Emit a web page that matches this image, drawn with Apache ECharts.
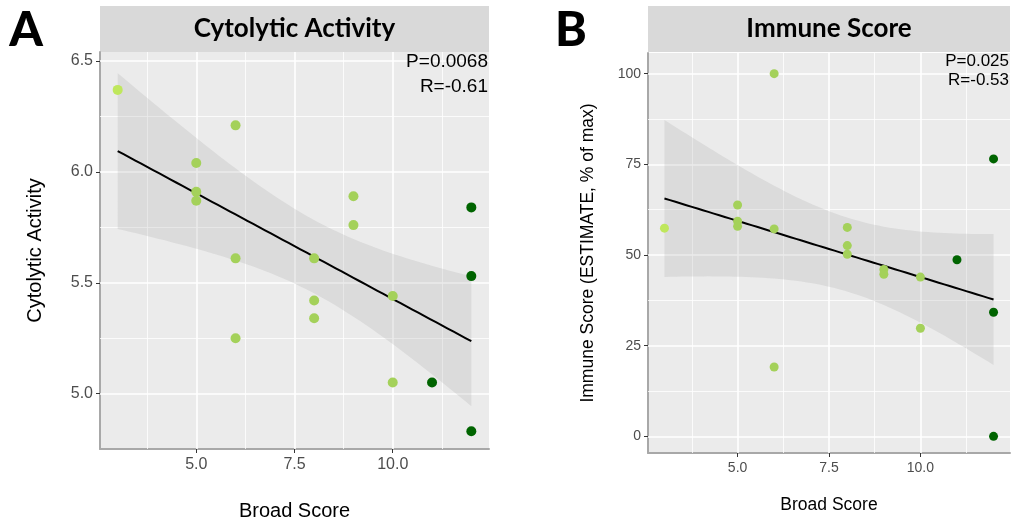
<!DOCTYPE html>
<html><head><meta charset="utf-8">
<script src="https://cdn.jsdelivr.net/npm/echarts@6/dist/echarts.min.js"></script>
<style>html,body{margin:0;padding:0;background:#fff}#c{width:1013px;height:523px}</style>
</head><body><div id="c"></div>
<script>
// ---- Panel A: Cytolytic Activity vs Broad Score ----
const aBroad = [3, 6, 5, 5, 5, 9, 9, 12, 6, 8, 12, 10, 8, 8, 6, 10, 11, 12];
const aCytolytic = [6.37, 6.21, 6.04, 5.91, 5.87, 5.89, 5.76, 5.84, 5.61, 5.61, 5.53, 5.44, 5.42, 5.34, 5.25, 5.05, 5.05, 4.83];
const aGroup = [0, 1, 1, 1, 1, 1, 1, 2, 1, 1, 2, 1, 1, 1, 1, 1, 2, 2];
// ---- Panel B: Immune Score vs Broad Score ----
const bBroad = [6, 12, 5, 3, 5, 5, 6, 8, 8, 8, 11, 9, 9, 10, 12, 10, 6, 12];
const bImmune = [100, 76.5, 63.8, 57.4, 59.3, 57.9, 57.2, 57.6, 52.6, 50.2, 48.7, 46.0, 44.7, 43.9, 34.2, 29.8, 19.1, 0];
const bGroup = [1, 2, 1, 0, 1, 1, 1, 1, 1, 1, 2, 1, 1, 1, 2, 1, 1, 2];

const groupColors = ['#bfe75c', '#a4d15a', '#006400'];
const xTicks = [5, 7.5, 10];
const xMinor = [3.75, 6.25, 8.75, 11.25];
const aYTicks = [5.0, 5.5, 6.0, 6.5];
const aYMinor = [5.25, 5.75, 6.25];
const bYTicks = [0, 25, 50, 75, 100];
const bYMinor = [12.5, 37.5, 62.5, 87.5];
const panelTitles = ['Cytolytic Activity', 'Immune Score'];
const panelLetters = ['A', 'B'];
const aStats = ['P=0.0068', 'R=-0.61'];
const bStats = ['P=0.025', 'R=-0.53'];
const xTitle = 'Broad Score';
const yTitles = ['Cytolytic Activity', 'Immune Score (ESTIMATE, % of max)'];

// linear model fit with 95% confidence band (as geom_smooth(method = "lm"))
function lmFit(xs, ys, steps) {
  const n = xs.length;
  const mx = xs.reduce((s, v) => s + v, 0) / n;
  const my = ys.reduce((s, v) => s + v, 0) / n;
  let sxx = 0, sxy = 0;
  for (let i = 0; i < n; i++) { sxx += (xs[i] - mx) ** 2; sxy += (xs[i] - mx) * (ys[i] - my); }
  const b = sxy / sxx, a = my - b * mx;
  let sse = 0;
  for (let i = 0; i < n; i++) { const r = ys[i] - (a + b * xs[i]); sse += r * r; }
  const s = Math.sqrt(sse / (n - 2));
  const t = 2.1199; // t(0.975, df = 16), n = 18
  const lo = Math.min(...xs), hi = Math.max(...xs);
  const line = [], upper = [], lower = [];
  for (let k = 0; k <= steps; k++) {
    const x = lo + (hi - lo) * k / steps;
    const yh = a + b * x;
    const se = s * Math.sqrt(1 / n + (x - mx) ** 2 / sxx);
    line.push([x, yh]); upper.push([x, yh + t * se]); lower.push([x, yh - t * se]);
  }
  return { line, upper, lower };
}

const fits = [lmFit(aBroad, aCytolytic, 60), lmFit(bBroad, bImmune, 60)];
const pts = [
  aBroad.map((x, i) => [x, aCytolytic[i], aGroup[i]]),
  bBroad.map((x, i) => [x, bImmune[i], bGroup[i]])
];
const yMajor = [aYTicks, bYTicks], yMinor = [aYMinor, bYMinor];
const tickFont = [16, 14], titleFont = [20, 17.5], symSize = [10, 9];

const grids = [
  { left: 100, top: 52, width: 389, height: 397 },
  { left: 648, top: 53, width: 362, height: 400 }
];
const yRanges = [[4.75, 6.541], [-4.6, 105.7]];

const option = {
  animation: false,
  backgroundColor: '#ffffff',
  grid: grids.map(g => Object.assign({ show: true, backgroundColor: '#ebebeb', borderWidth: 0 }, g)),
  xAxis: [0, 1].map(i => ({
    gridIndex: i, type: 'value', min: 2.55, max: 12.45,
    splitLine: { show: false },
    axisLine: { show: true, onZero: false, lineStyle: { color: '#a8a8a8', width: 2 } },
    axisTick: { show: true, customValues: xTicks, length: 4, lineStyle: { color: '#333', width: 1 } },
    axisLabel: { customValues: xTicks, formatter: v => v.toFixed(1), fontSize: tickFont[i],
      color: '#4d4d4d', fontFamily: 'Liberation Sans', margin: 8 }
  })),
  yAxis: [0, 1].map(i => ({
    gridIndex: i, type: 'value', min: yRanges[i][0], max: yRanges[i][1],
    splitLine: { show: false },
    axisLine: { show: true, onZero: false, lineStyle: { color: '#a8a8a8', width: 2 } },
    axisTick: { show: true, customValues: yMajor[i], length: 4, lineStyle: { color: '#333', width: 1 } },
    axisLabel: { customValues: yMajor[i], formatter: v => (i === 0 ? v.toFixed(1) : String(v)),
      fontSize: tickFont[i], color: '#4d4d4d', fontFamily: 'Liberation Sans', margin: 7 }
  })),
  series: [],
  graphic: []
};

[0, 1].forEach(i => {
  // grid lines
  option.series.push({
    type: 'line', xAxisIndex: i, yAxisIndex: i, data: [], silent: true, z: 1,
    markLine: {
      silent: true, symbol: 'none', z: 1, animation: false, label: { show: false },
      emphasis: { disabled: true },
      data: [
        ...xMinor.map(v => ({ xAxis: v, lineStyle: { color: '#ffffff', width: 0.8, type: 'solid' } })),
        ...yMinor[i].map(v => ({ yAxis: v, lineStyle: { color: '#ffffff', width: 0.8, type: 'solid' } })),
        ...xTicks.map(v => ({ xAxis: v, lineStyle: { color: '#ffffff', width: 1.6, type: 'solid' } })),
        ...yMajor[i].map(v => ({ yAxis: v, lineStyle: { color: '#ffffff', width: 1.6, type: 'solid' } }))
      ]
    }
  });
  // confidence band
  const f = fits[i];
  option.series.push({
    type: 'custom', xAxisIndex: i, yAxisIndex: i, z: 2, silent: true,
    data: [f.line[0]],
    renderItem: (params, api) => {
      const poly = f.upper.map(p => api.coord(p)).concat(f.lower.slice().reverse().map(p => api.coord(p)));
      return { type: 'polygon', shape: { points: poly }, style: { fill: 'rgba(153,153,153,0.2)' } };
    }
  });
  // fit line
  option.series.push({
    type: 'line', xAxisIndex: i, yAxisIndex: i, z: 3, silent: true, data: f.line,
    showSymbol: false, lineStyle: { color: '#000000', width: 2 }
  });
  // points
  option.series.push({
    type: 'scatter', xAxisIndex: i, yAxisIndex: i, z: 4, data: pts[i], symbolSize: symSize[i],
    itemStyle: { color: p => groupColors[p.data[2]], opacity: 1 }
  });

  const g = grids[i];
  const cx = g.left + g.width / 2;
  // strip
  option.graphic.push({ type: 'rect', left: g.left, top: 6, shape: { width: g.width, height: 46 },
    style: { fill: '#d9d9d9' }, z: 0 });
  option.graphic.push({ type: 'text', x: cx, y: 29, z: 10,
    style: { text: panelTitles[i], fontFamily: 'Lato', fontWeight: 'bold', fontSize: 26,
      fill: '#000', align: 'center', verticalAlign: 'middle' } });
  // panel letter
  option.graphic.push({ type: 'text', x: i === 0 ? 26 : 571, y: 31, z: 10,
    style: { text: panelLetters[i], fontFamily: 'Lato', fontWeight: 900, fontSize: 48,
      fill: '#000', align: 'center', verticalAlign: 'middle' } });
  // stats
  const st = i === 0 ? aStats : bStats;
  const rx = i === 0 ? 488 : 1009;
  const sy = i === 0 ? [62, 87] : [61, 80];
  const sf = i === 0 ? 19 : 17;
  st.forEach((s, k) => option.graphic.push({ type: 'text', x: rx, y: sy[k], z: 10,
    style: { text: s, fontFamily: 'Liberation Sans', fontSize: sf, fill: '#000', align: 'right', verticalAlign: 'middle' } }));
  // axis titles
  option.graphic.push({ type: 'text', x: cx, y: i === 0 ? 511 : 505, z: 10,
    style: { text: xTitle, fontFamily: 'Liberation Sans', fontSize: titleFont[i], fill: '#000',
      align: 'center', verticalAlign: 'middle' } });
  option.graphic.push({ type: 'text', x: i === 0 ? 35 : 588, y: g.top + g.height / 2, rotation: Math.PI / 2, z: 10,
    style: { text: yTitles[i], fontFamily: 'Liberation Sans', fontSize: titleFont[i], fill: '#000',
      align: 'center', verticalAlign: 'middle' } });
});

const chart = echarts.init(document.getElementById('c'), null, { renderer: 'canvas' });
chart.setOption(option);
</script>
</body></html>
